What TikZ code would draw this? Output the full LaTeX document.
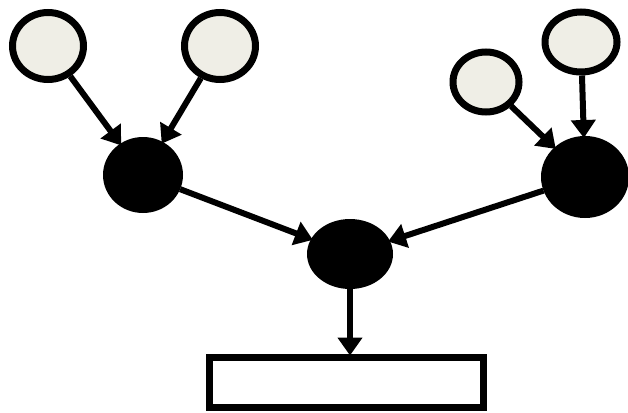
\documentclass[tikz,border=0pt]{standalone}
\usetikzlibrary{shapes.geometric,arrows.meta}
\definecolor{lightfill}{HTML}{EFEEE6}
\begin{document}
\begin{tikzpicture}[x=1pt,y=-1pt,
  lightnode/.style={ellipse,draw=black,fill=lightfill,line width=7pt,inner sep=0pt},
  darknode/.style={ellipse,draw=black,fill=black,line width=2pt,inner sep=0pt},
  outbox/.style={rectangle,draw=black,fill=white,line width=7pt,inner sep=0pt},
  link/.style={line width=6pt,-{Triangle[length=18pt,width=24pt]},shorten >=-2pt}
]
\useasboundingbox (0,0) rectangle (628,412);
\node[lightnode,minimum width=71pt,minimum height=67pt] (a) at (48,46) {};
\node[lightnode,minimum width=71pt,minimum height=67pt] (b) at (220,46) {};
\node[lightnode,minimum width=66pt,minimum height=60pt] (d) at (486,82) {};
\node[lightnode,minimum width=72pt,minimum height=60pt] (e) at (581,42) {};
\node[darknode,minimum width=78pt,minimum height=74pt] (c) at (143,175) {};
\node[darknode,minimum width=86pt,minimum height=80pt] (f) at (585,177) {};
\node[darknode,minimum width=84pt,minimum height=68pt] (g) at (350,254) {};
\node[outbox,minimum width=274pt,minimum height=50pt] (r) at (346,382) {};
\draw[link] (a) -- (c);
\draw[link] (b) -- (c);
\draw[link] (c) -- (g);
\draw[link] (f) -- (g);
\draw[link] (d) -- (f);
\draw[link] (e) -- (f);
\draw[link] (g.south) -- (g.south |- r.north);
\end{tikzpicture}
\end{document}
